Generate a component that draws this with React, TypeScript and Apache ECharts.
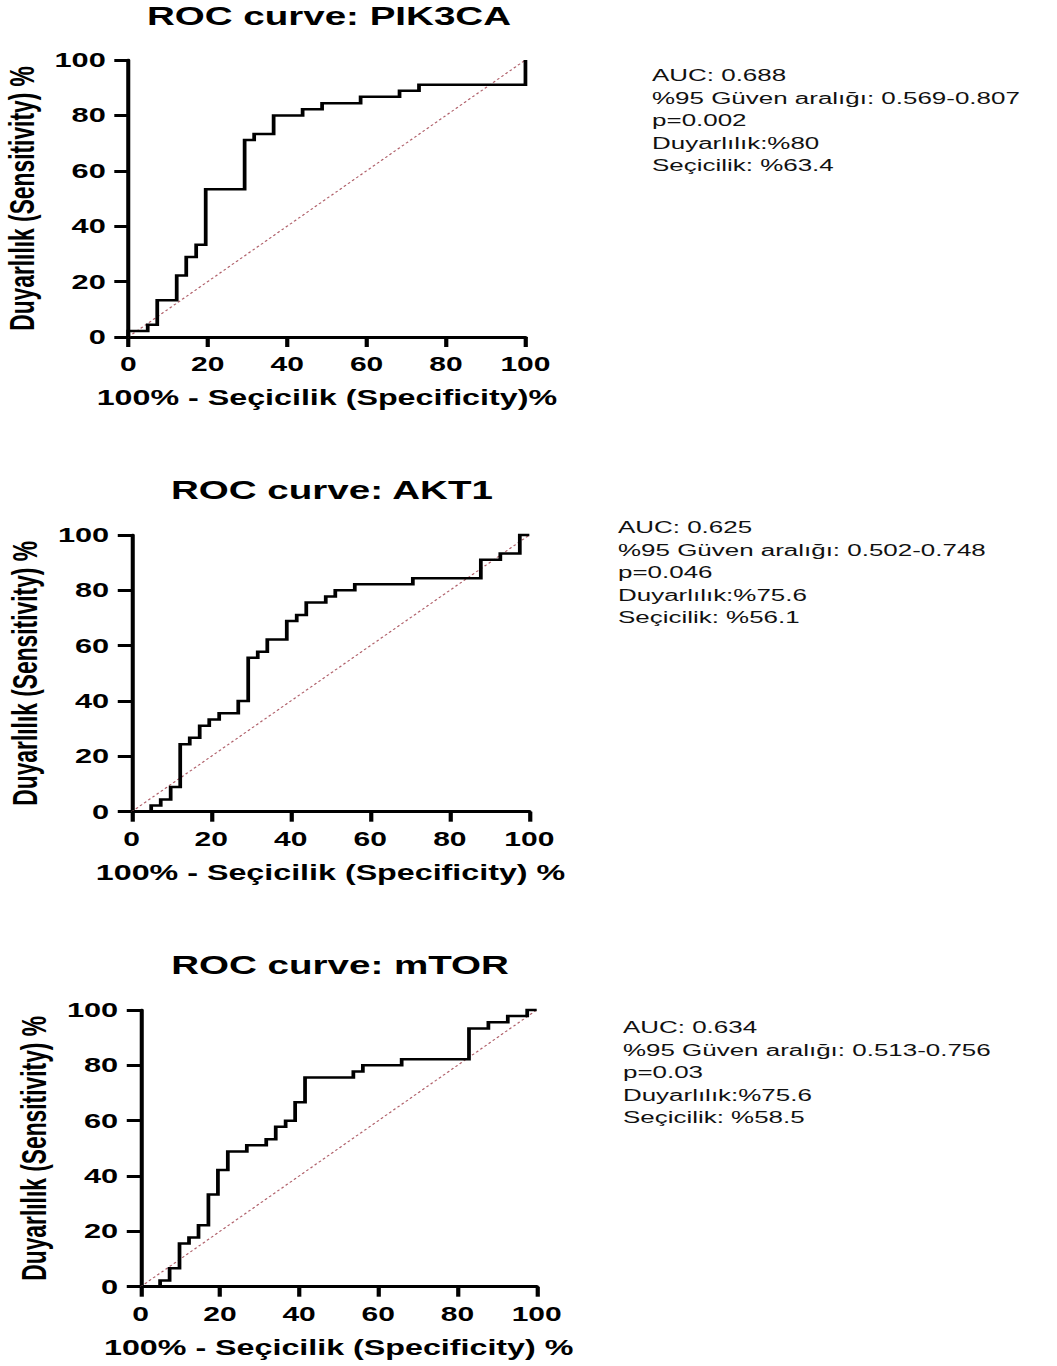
import React, { useEffect, useRef } from "react";
import * as echarts from "echarts";

// ---------- data ----------
const titles = ["ROC curve: PIK3CA", "ROC curve: AKT1", "ROC curve: mTOR"];
const yAxisName = "Duyarlılık (Sensitivity) %";
const xAxisNames = [
  "100% - Seçicilik (Specificity)%",
  "100% - Seçicilik (Specificity) %",
  "100% - Seçicilik (Specificity) %",
];
const axisTicks = [0, 20, 40, 60, 80, 100];

// ROC points: 100% - specificity (x) and sensitivity (y), each the end of a step
const pik3caFpr = [0, 0, 4.9, 7.3, 12.2, 14.6, 17.1, 19.5, 29.3, 31.7, 36.6, 43.9, 48.8, 58.5, 68.3, 73.2, 100];
const pik3caTpr = [0, 2.2, 4.4, 13.3, 22.2, 28.9, 33.3, 53.3, 71.1, 73.3, 80.0, 82.2, 84.4, 86.7, 88.9, 91.1, 100];

const akt1Fpr = [0, 4.9, 7.3, 9.8, 12.2, 14.6, 17.1, 19.5, 22.0, 26.8, 29.3, 31.7, 34.1, 39.0, 41.5, 43.9, 48.8, 51.2, 56.1, 70.7, 87.8, 92.7, 97.6, 100];
const akt1Tpr = [0, 2.2, 4.4, 8.9, 24.4, 26.7, 31.1, 33.3, 35.6, 40.0, 55.6, 57.8, 62.2, 68.9, 71.1, 75.6, 77.8, 80.0, 82.2, 84.4, 91.1, 93.3, 100, 100];

const mtorFpr = [0, 4.9, 7.3, 9.8, 12.2, 14.6, 17.1, 19.5, 22.0, 26.8, 31.7, 34.1, 36.6, 39.0, 41.5, 53.7, 56.1, 65.9, 82.9, 87.8, 92.7, 97.6, 100];
const mtorTpr = [0, 2.2, 6.7, 15.6, 17.8, 22.2, 33.3, 42.2, 48.9, 51.1, 53.3, 57.8, 60.0, 66.7, 75.6, 77.8, 80.0, 82.2, 93.3, 95.6, 97.8, 100, 100];

const referenceX = [0, 100];
const referenceY = [0, 100];

const pik3caStats = ["AUC: 0.688", "%95 Güven aralığı: 0.569-0.807", "p=0.002", "Duyarlılık:%80", "Seçicilik: %63.4"];
const akt1Stats = ["AUC: 0.625", "%95 Güven aralığı: 0.502-0.748", "p=0.046", "Duyarlılık:%75.6", "Seçicilik: %56.1"];
const mtorStats = ["AUC: 0.634", "%95 Güven aralığı: 0.513-0.756", "p=0.03", "Duyarlılık:%75.6", "Seçicilik: %58.5"];

const fprs = [pik3caFpr, akt1Fpr, mtorFpr];
const tprs = [pik3caTpr, akt1Tpr, mtorTpr];
const stats = [pik3caStats, akt1Stats, mtorStats];

// ---------- layout (unscaled px; the chart is stretched horizontally x1.5) ----------
const SX = 1.5;
const W = 704;
const H = 1366;
const FONT = '"Liberation Sans", Arial, Helvetica, sans-serif';

const grids = [
  { left: 85.5, top: 60, width: 264.8, height: 277 },
  { left: 87.8, top: 535, width: 265.1, height: 276.7 },
  { left: 93.8, top: 1010, width: 264, height: 276.7 },
];
const titlePos = [
  { x: 219.3, y: 3 },
  { x: 221.3, y: 477 },
  { x: 226.7, y: 952 },
];
const statsPos = [
  { x: 434.7, y: 64 },
  { x: 412, y: 516 },
  { x: 415.3, y: 1016 },
];

export default function App() {
  const ref = useRef<HTMLDivElement>(null);

  useEffect(() => {
    document.body.style.margin = "0";
    document.body.style.overflow = "hidden";
    if (!ref.current) return;
    const chart = echarts.init(ref.current, undefined, { renderer: "svg" });

    const xAxes: any[] = [];
    const yAxes: any[] = [];
    const series: any[] = [];
    const titleOpts: any[] = [];
    const graphics: any[] = [];

    grids.forEach((g, i) => {
      xAxes.push({
        gridIndex: i,
        type: "value",
        min: 0,
        max: 100,
        interval: 20,
        name: xAxisNames[i],
        nameLocation: "middle",
        nameGap: 50,
        nameTextStyle: { fontSize: 21.5, fontWeight: "bold", color: "#000", fontFamily: FONT },
        axisLine: { show: true, onZero: false, lineStyle: { color: "#000", width: 3 } },
        axisTick: { show: true, length: 10, lineStyle: { color: "#000", width: 2.8 } },
        axisLabel: {
          fontSize: 20,
          fontWeight: "bold",
          color: "#000",
          margin: 17,
          fontFamily: FONT,
          formatter: (v: number) => (axisTicks.includes(v) ? String(v) : ""),
        },
        splitLine: { show: false },
      });
      yAxes.push({
        gridIndex: i,
        type: "value",
        min: 0,
        max: 100,
        interval: 20,
        name: yAxisName,
        nameLocation: "middle",
        nameRotate: 90,
        nameGap: 59.5,
        nameTextStyle: { fontSize: 22.8, fontWeight: "bold", color: "#000", fontFamily: FONT },
        axisLine: { show: true, onZero: false, lineStyle: { color: "#000", width: 2.7 } },
        axisTick: { show: true, length: 9.3, lineStyle: { color: "#000", width: 3 } },
        axisLabel: {
          fontSize: 20.5,
          fontWeight: "bold",
          color: "#000",
          margin: 15,
          fontFamily: FONT,
          formatter: (v: number) => (axisTicks.includes(v) ? String(v) : ""),
        },
        splitLine: { show: false },
      });
      series.push({
        type: "line",
        xAxisIndex: i,
        yAxisIndex: i,
        data: referenceX.map((x, k) => [x, referenceY[k]]),
        symbol: "none",
        clip: false,
        lineStyle: { color: "#b0606a", width: 1, type: [2, 2] },
        z: 2,
      });
      series.push({
        type: "line",
        xAxisIndex: i,
        yAxisIndex: i,
        step: "end",
        data: fprs[i].map((x, k) => [x, tprs[i][k]]),
        symbol: "none",
        clip: false,
        lineStyle: { color: "#000", width: 2.5, join: "miter", cap: "butt" },
        z: 3,
      });
      titleOpts.push({
        text: titles[i],
        left: titlePos[i].x,
        top: titlePos[i].y,
        textAlign: "center",
        padding: 0,
        textStyle: { fontSize: 25.7, fontWeight: "bold", color: "#000", fontFamily: FONT },
      });
      graphics.push({
        type: "text",
        left: statsPos[i].x,
        top: statsPos[i].y,
        style: {
          text: stats[i].join("\n"),
          fontSize: 17.3,
          lineHeight: 22.5,
          fill: "#111",
          fontFamily: FONT,
        },
      });
    });

    chart.setOption({
      animation: false,
      backgroundColor: "#fff",
      title: titleOpts,
      grid: grids.map((g) => ({ ...g, containLabel: false })),
      xAxis: xAxes,
      yAxis: yAxes,
      series,
      graphic: graphics,
    });

    return () => chart.dispose();
  }, []);

  return (
    <div
      ref={ref}
      style={{
        width: W,
        height: H,
        transform: `scaleX(${SX})`,
        transformOrigin: "0 0",
      }}
    />
  );
}
